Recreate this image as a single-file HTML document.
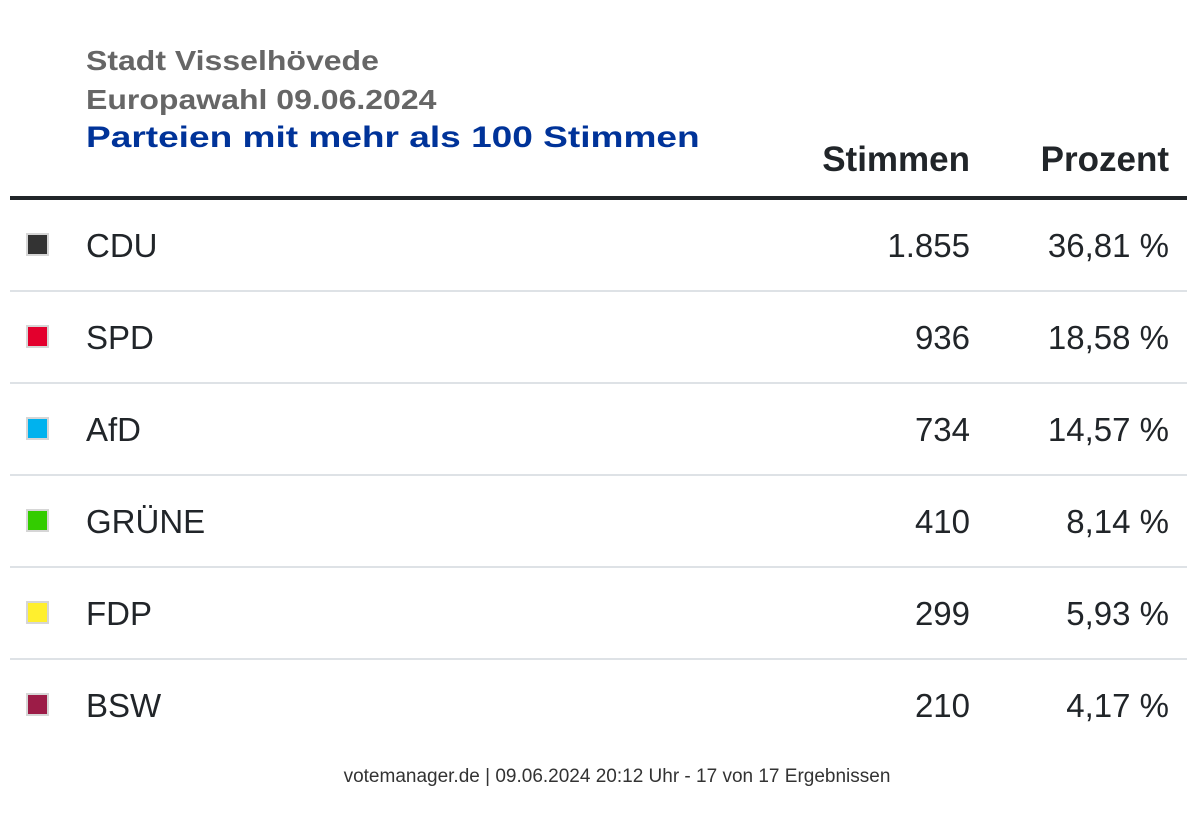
<!DOCTYPE html>
<html><head><meta charset="utf-8"><style>
body{margin:0;width:1190px;height:818px;background:#fff;position:relative;overflow:hidden;font-family:"Liberation Sans",sans-serif;}
.t{position:absolute;left:86px;font-weight:bold;font-size:28px;color:#666;white-space:nowrap;transform-origin:0 0;transform:scaleX(1.143);}
.h{position:absolute;top:140px;font-weight:bold;font-size:35px;color:#212529;}
.hl{position:absolute;left:10px;top:196px;width:1177px;height:4px;background:#212529;}
.sep{position:absolute;left:10px;width:1177px;height:2px;background:#dee2e6;}
.sq{position:absolute;left:26px;width:19px;height:19px;border:2px solid #d6d6d6;}
.n{position:absolute;left:86px;font-size:33px;color:#212529;}
.v{position:absolute;font-size:33px;color:#212529;text-align:right;}
.f{position:absolute;top:766px;left:0;width:1234px;text-align:center;font-size:19px;color:#333;}
</style></head><body>
<div class="t" style="top:45px">Stadt Visselhövede</div>
<div class="t" style="top:84px">Europawahl 09.06.2024</div>
<div class="t" style="top:121px;color:#003399;font-size:30px;transform:scaleX(1.235);">Parteien mit mehr als 100 Stimmen</div>
<div class="h" style="right:220px">Stimmen</div>
<div class="h" style="right:21px">Prozent</div>
<div class="hl"></div>

<div class="sq" style="top:233px;background:#333"></div>
<div class="n" style="top:227px">CDU</div>
<div class="v" style="top:227px;right:220px">1.855</div>
<div class="v" style="top:227px;right:21px">36,81 %</div>
<div class="sep" style="top:290px"></div>

<div class="sq" style="top:325px;background:#e3002d"></div>
<div class="n" style="top:319px">SPD</div>
<div class="v" style="top:319px;right:220px">936</div>
<div class="v" style="top:319px;right:21px">18,58 %</div>
<div class="sep" style="top:382px"></div>

<div class="sq" style="top:417px;background:#00b2ee"></div>
<div class="n" style="top:411px">AfD</div>
<div class="v" style="top:411px;right:220px">734</div>
<div class="v" style="top:411px;right:21px">14,57 %</div>
<div class="sep" style="top:474px"></div>

<div class="sq" style="top:509px;background:#33cc00"></div>
<div class="n" style="top:503px">GRÜNE</div>
<div class="v" style="top:503px;right:220px">410</div>
<div class="v" style="top:503px;right:21px">8,14 %</div>
<div class="sep" style="top:566px"></div>

<div class="sq" style="top:601px;background:#ffef2e"></div>
<div class="n" style="top:595px">FDP</div>
<div class="v" style="top:595px;right:220px">299</div>
<div class="v" style="top:595px;right:21px">5,93 %</div>
<div class="sep" style="top:658px"></div>

<div class="sq" style="top:693px;background:#9c1c47"></div>
<div class="n" style="top:687px">BSW</div>
<div class="v" style="top:687px;right:220px">210</div>
<div class="v" style="top:687px;right:21px">4,17 %</div>

<div class="f">votemanager.de | 09.06.2024 20:12 Uhr - 17 von 17 Ergebnissen</div>
</body></html>
